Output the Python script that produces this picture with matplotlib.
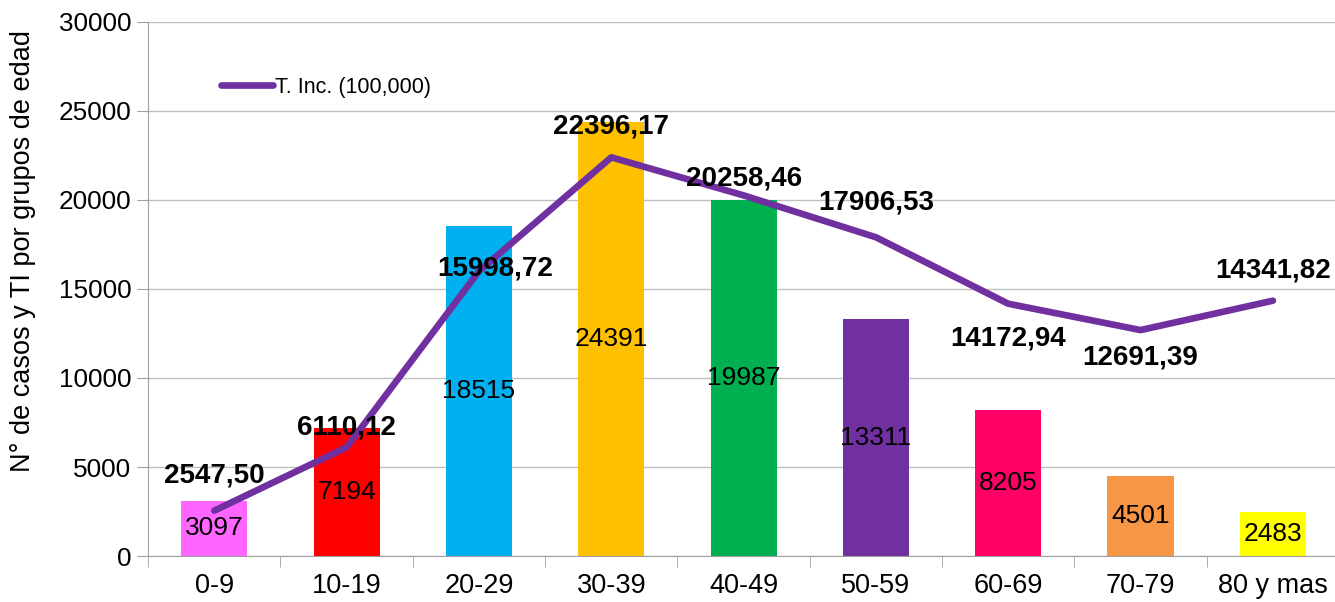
import matplotlib
matplotlib.use("Agg")
import matplotlib.pyplot as plt

plt.rcParams['font.family'] = ['Liberation Sans', 'DejaVu Sans']

grupos = ['0-9', '10-19', '20-29', '30-39', '40-49', '50-59', '60-69', '70-79', '80 y mas']
casos = [3097, 7194, 18515, 24391, 19987, 13311, 8205, 4501, 2483]
tasa = [2547.50, 6110.12, 15998.72, 22396.17, 20258.46, 17906.53, 14172.94, 12691.39, 14341.82]
colores = ['#FF66FF', '#FF0000', '#00B0F0', '#FFC000', '#00B050',
           '#7030A0', '#FF0066', '#F79646', '#FFFF00']

# label offsets for the line values (points), picked by eye
off_tasa = [(0, 25), (0, 14), (12, 2), (0, 22), (0, 12), (0, 25), (0, -25), (0, -20), (0, 22)]

fig = plt.figure(figsize=(13.35, 6.02), dpi=100)
ax = fig.add_axes([0.111, 0.0764, 0.892, 0.8871])

x = range(len(grupos))
bars = ax.bar(x, casos, width=0.5, color=colores, zorder=2)
for b, v in zip(bars, casos):
    ax.text(b.get_x() + b.get_width() / 2, v / 2, str(v), ha='center', va='center',
            fontsize=19, zorder=4)

ax.plot(x, tasa, color='#7030A0', lw=4.8, solid_capstyle='round', zorder=3,
        label='T. Inc. (100,000)')
for i, v in enumerate(tasa):
    txt = f'{v:.2f}'.replace('.', ',')
    ax.annotate(txt, (i, v), xytext=off_tasa[i], textcoords='offset points',
                ha='center', va='center', fontsize=20, fontweight='bold', zorder=5)

ax.set_xlim(-0.5, len(grupos) - 0.5)
ax.set_ylim(0, 30000)
ax.set_yticks(range(0, 30001, 5000))
ax.set_xticks(x)
ax.set_xticklabels(grupos)
ax.set_xticks([i + 0.5 for i in range(-1, len(grupos))], minor=True)
ax.tick_params(axis='x', which='major', length=0, labelsize=19.5, pad=12)
ax.tick_params(axis='x', which='minor', length=8, color='#A0A0A0', direction='out')
ax.tick_params(axis='y', length=8, color='#A0A0A0', labelsize=18.8, pad=4)
ax.grid(axis='y', color='#BFBFBF', lw=1, zorder=0)
ax.set_axisbelow(True)
for s in ['top', 'right']:
    ax.spines[s].set_visible(False)
for s in ['left', 'bottom']:
    ax.spines[s].set_color('#A0A0A0')
ax.set_ylabel('N° de casos y TI por grupos de edad', fontsize=19.5)
ax.yaxis.set_label_coords(-0.094, 0.572)

ax.legend(loc='center left', bbox_to_anchor=(0.045, 0.878), frameon=False,
          fontsize=15.5, handlelength=2.4, handletextpad=0.1)

fig.savefig('out.png', dpi=100)
